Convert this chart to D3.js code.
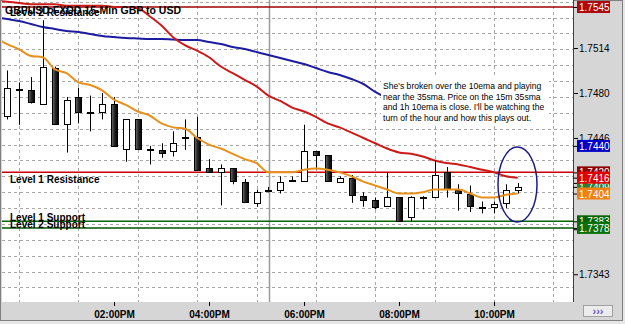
<!DOCTYPE html>
<html>
<head>
<meta charset="utf-8">
<script src="https://cdn.jsdelivr.net/npm/d3@7"></script>
<style>
body { margin: 0; background: #e6e6e6; }
svg { display: block; font-family: "Liberation Sans", Arial, sans-serif; }
</style>
</head>
<body>
<svg id="chart" width="625" height="324"></svg>
<script>
// 15-min bars, GBP/USD
var times = ["11:45","12:00","12:15","12:30","12:45","13:00","13:15","13:30","13:45","14:00","14:15",
  "14:30","14:45","15:00","15:15","15:30","15:45","16:00","16:15","16:30","16:45","17:00","17:15",
  "17:30","17:45","18:00","18:15","18:30","18:45","19:00","19:15","19:30","19:45","20:00","20:15",
  "20:30","20:45","21:00","21:15","21:30","21:45","22:00","22:15","22:30"];
var opens = [1.7463,1.7483,1.7482,1.7472,1.7499,1.7457,1.7477,1.7466,1.7466,1.7472,1.7437,1.7460,1.7438,1.7437,1.7436,
  1.7446,1.7447,1.7423,1.7420,1.7423,1.7413,1.7397,1.7406,1.7407,1.7413,1.7413,1.7436,1.7433,1.7413,1.7416,1.7402,
  1.7399,1.7394,1.7401,1.7386,1.7401,1.7401,1.7420,1.7407,1.7404,1.7394,1.7394,1.7397,1.7407];
var highs = [1.7497,1.7488,1.7492,1.7535,1.7500,1.7477,1.7484,1.7478,1.7480,1.7477,1.7460,1.7460,1.7440,1.7442,1.7451,
  1.7460,1.7462,1.7430,1.7426,1.7423,1.7415,1.7407,1.7409,1.7417,1.7417,1.7456,1.7436,1.7433,1.7417,1.7418,1.7405,
  1.7401,1.7420,1.7401,1.7402,1.7402,1.7429,1.7424,1.7411,1.7410,1.7398,1.7398,1.7411,1.7412];
var lows = [1.7460,1.7456,1.7472,1.7472,1.7457,1.7435,1.7457,1.7451,1.7460,1.7440,1.7428,1.7437,1.7426,1.7431,1.7432,
  1.7437,1.7422,1.7420,1.7395,1.7411,1.7397,1.7394,1.7405,1.7404,1.7413,1.7413,1.7422,1.7413,1.7413,1.7397,1.7394,
  1.7392,1.7394,1.7383,1.7383,1.7392,1.7401,1.7401,1.7391,1.7390,1.7389,1.7389,1.7393,1.7404];
var closes = [1.7484,1.7482,1.7473,1.7500,1.7457,1.7475,1.7466,1.7465,1.7472,1.7440,1.7460,1.7437,1.7437,1.7435,1.7442,
  1.7447,1.7422,1.7420,1.7423,1.7413,1.7398,1.7405,1.7407,1.7413,1.7414,1.7436,1.7433,1.7413,1.7416,1.7403,1.7399,
  1.7394,1.7401,1.7383,1.7401,1.7400,1.7418,1.7407,1.7405,1.7395,1.7394,1.7396,1.7407,1.7409];

// moving averages, read at 11:30 and then at every bar
var maTimes = ["11:30"].concat(times);
var ema10 = [1.7522,1.7517,1.7513,1.7508,1.7507,1.7498,1.7495,1.7488,1.7486,1.7482,1.7475,1.7471,1.7466,1.7463,1.7457,
  1.7454,1.7453,1.7446,1.7441,1.7438,1.7434,1.7430,1.7427,1.7420,1.7420,1.7420,1.7422,1.7423,1.7422,1.7420,1.7417,
  1.7413,1.7410,1.7407,1.7404,1.7404,1.7405,1.7407,1.7407,1.7407,1.7404,1.7401,1.7401,1.7403,1.7404];
var sma35 = [1.7550,1.7549,1.7548,1.7547,1.7547,1.7547,1.7546,1.7546,1.7546,1.7546,1.7545,1.7545,1.7544,1.7538,1.7531,
  1.7522,1.7516,1.7512,1.7507,1.7500,1.7495,1.7490,1.7485,1.7478,1.7474,1.7469,1.7466,1.7462,1.7457,1.7454,1.7450,
  1.7446,1.7442,1.7438,1.7435,1.7434,1.7432,1.7429,1.7427,1.7426,1.7424,1.7422,1.7420,1.7417,1.7416];
var sma100 = [1.75374,1.75359,1.75344,1.75322,1.75299,1.75284,1.75269,1.75261,1.75246,1.75231,1.75223,1.75216,1.75212,
  1.75208,1.75208,1.75204,1.75201,1.75201,1.75185,1.75170,1.75148,1.75133,1.75110,1.75087,1.75065,1.75042,1.75019,
  1.74989,1.74959,1.74936,1.74906,1.74868,1.74808,1.74762];

// horizontal levels
var levelNames = ["Level 2 Resistance", "Level 1 Resistance", "Level 1 Support", "Level 2 Support"];
var levelValues = [1.7545, 1.7420, 1.7383, 1.7378];

// price markers on the right scale (drawn in this order)
var markerValues = [1.7545, 1.7440, 1.7420, 1.7409, 1.7416, 1.7404, 1.7383, 1.7378];

var priceTicks = [1.7514, 1.7480, 1.7446, 1.7412, 1.7377, 1.7343];
var priceTickLabels = ["1.7514", "1.7480", "1.7446", "1.7412", "1.7377", "1.7343"];
var timeTicks = ["14:00", "16:00", "18:00", "20:00", "22:00"];
var gridTimes = ["12:00","13:15","14:30","15:45","17:00","18:15","19:30","20:45","22:00","23:15"];
var gridPrices = [1.7333,1.7345,1.7357,1.7369,1.7381,1.7393,1.7405,1.7417,1.7429,1.7441,1.7453,1.7465,
  1.7477,1.7489,1.7501,1.7513,1.7525,1.7537,1.7549];

var title = "GBPUSD FXDD 15-Min GBP to USD";
var note = ["She's broken over the 10ema and playing",
  "near the 35sma.  Price on the 15m 35sma",
  "and 1h 10ema is close.  I'll be watching the",
  "turn of the hour and how this plays out."];

var svg = d3.select("#chart");
var parseT = d3.timeParse("%H:%M:%S");
var pt = function(s) { return parseT(s.length == 5 ? s + ":00" : s); };

var plotL = 2, plotR = 573, plotT = 0, plotB = 302;
var x = d3.scaleTime().domain([pt("11:38:30"), pt("23:39:45")]).range([plotL, plotR]);
var y = d3.scaleLinear().domain([1.7322, 1.75503]).range([plotB, plotT]);

var markerColors = ["#b00808", "#0000c8", "#8c0000", "#2e7d32", "#e00000", "#f08010", "#006400", "#0a700a"];
var levelColors = ["#a00000", "#cc0000", "#006400", "#005400"];

// frame
svg.append("rect").attr("x", 0.5).attr("y", 0.5).attr("width", 622).attr("height", 320)
  .attr("fill", "#d6d6d6").attr("stroke", "#808080");
svg.append("rect").attr("x", plotL).attr("y", plotT).attr("width", plotR - plotL).attr("height", plotB - plotT)
  .attr("fill", "#ffffff");
svg.append("line").attr("x1", plotR + 0.5).attr("x2", plotR + 0.5).attr("y1", 0).attr("y2", plotB)
  .attr("stroke", "#404040");

var defs = svg.append("defs");
defs.append("clipPath").attr("id", "plot").append("rect")
  .attr("x", plotL).attr("y", plotT).attr("width", plotR - plotL).attr("height", plotB - plotT);
var grad = defs.append("linearGradient").attr("id", "dark").attr("x1", "0%").attr("x2", "100%");
grad.append("stop").attr("offset", "0%").attr("stop-color", "#707070");
grad.append("stop").attr("offset", "45%").attr("stop-color", "#2a2a2a");
grad.append("stop").attr("offset", "100%").attr("stop-color", "#000000");

var g = svg.append("g").attr("clip-path", "url(#plot)");

// grid
g.selectAll(".vg").data(gridTimes).enter().append("line")
  .attr("x1", function(d) { return Math.round(x(pt(d))) + 0.5; })
  .attr("x2", function(d) { return Math.round(x(pt(d))) + 0.5; })
  .attr("y1", plotT).attr("y2", plotB)
  .attr("stroke", "#a8a8a8").attr("stroke-dasharray", "3,3");
g.selectAll(".hg").data(gridPrices).enter().append("line")
  .attr("x1", plotL).attr("x2", plotR)
  .attr("y1", function(d) { return Math.round(y(d)) + 0.5; })
  .attr("y2", function(d) { return Math.round(y(d)) + 0.5; })
  .attr("stroke", "#a8a8a8").attr("stroke-dasharray", "3,3");

// session separator
g.append("line").attr("x1", 269.5).attr("x2", 269.5).attr("y1", plotT).attr("y2", plotB)
  .attr("stroke", "#9a9a9a").attr("stroke-width", 1.5);

// level lines
g.selectAll(".lvl").data(levelValues).enter().append("line")
  .attr("x1", plotL).attr("x2", plotR)
  .attr("y1", function(d) { return y(d); }).attr("y2", function(d) { return y(d); })
  .attr("stroke", function(d, i) { return levelColors[i]; }).attr("stroke-width", 1.5);

// moving averages
function maLine(vals, color) {
  var line = d3.line()
    .x(function(d, i) { return x(pt(maTimes[i])); })
    .y(function(d) { return y(d); })
    .curve(d3.curveMonotoneX);
  g.append("path").datum(vals).attr("d", line)
    .attr("fill", "none").attr("stroke", color).attr("stroke-width", 2);
}
maLine(sma100, "#1c1ca0");
maLine(sma35, "#cc1a1a");

// candles
var bars = times.map(function(t, i) {
  return { t: pt(t), o: opens[i], h: highs[i], l: lows[i], c: closes[i] };
});
var cg = g.append("g");
bars.forEach(function(d) {
  var cx = Math.round(x(d.t));
  cg.append("line").attr("x1", cx + 0.5).attr("x2", cx + 0.5)
    .attr("y1", y(d.h)).attr("y2", y(d.l)).attr("stroke", "#000").attr("stroke-width", 1);
  var yt = y(Math.max(d.o, d.c)), yb = y(Math.min(d.o, d.c));
  cg.append("rect").attr("x", cx - 2.5).attr("y", Math.round(yt) + 0.5)
    .attr("width", 6).attr("height", Math.max(1, Math.round(yb - yt)))
    .attr("fill", d.c >= d.o ? "#ffffff" : "url(#dark)")
    .attr("stroke", "#000").attr("stroke-width", 1);
});

maLine(ema10, "#e8901c");

// note
var nb = svg.append("g");
nb.append("rect").attr("x", 381).attr("y", 78).attr("width", 168).attr("height", 47).attr("fill", "#ffffff");
nb.selectAll("text").data(note).enter().append("text")
  .attr("x", 383).attr("y", function(d, i) { return 89 + i * 10.7; })
  .attr("font-size", "8.6px").attr("fill", "#000").text(function(d) { return d; });

// highlighted area
svg.append("ellipse").attr("cx", 517.5).attr("cy", 184.5).attr("rx", 19.5).attr("ry", 37.5)
  .attr("fill", "none").attr("stroke", "#1a1a8c").attr("stroke-width", 1.5);

// level names
svg.selectAll(".lname").data(levelNames).enter().append("text")
  .attr("x", 10)
  .attr("y", function(d, i) { return [16, 183, 221, 228][i]; })
  .attr("font-size", "10px").attr("font-weight", "bold").attr("fill", "#000")
  .text(function(d) { return d; });
svg.append("text").attr("x", 5).attr("y", 14).attr("font-size", "10.5px").attr("font-weight", "bold")
  .attr("fill", "#000").text(title);

// right price axis
var ya = d3.axisRight(y).tickValues(priceTicks).tickSize(4)
  .tickFormat(function(d, i) { return priceTickLabels[i]; });
var yag = svg.append("g").attr("transform", "translate(" + (plotR + 1) + ",0)").call(ya);
yag.select(".domain").remove();
yag.selectAll("text").attr("x", 5).attr("font-size", "10px").attr("font-family", "Liberation Sans, Arial")
  .attr("fill", "#000");
yag.selectAll("line").attr("stroke", "#000");

// price markers
var mk = svg.append("g").selectAll("g").data(markerValues).enter().append("g")
  .attr("transform", function(d) { return "translate(" + (plotR + 4) + "," + y(d) + ")"; });
mk.append("rect").attr("x", 0).attr("y", -6).attr("width", 33).attr("height", 12)
  .attr("fill", function(d, i) { return markerColors[i]; });
mk.append("text").attr("x", 2).attr("y", 4).attr("font-size", "10px").attr("fill", "#fff")
  .text(function(d) { return d3.format(".4f")(d); });
mk.append("line").attr("x1", -4).attr("x2", 0).attr("y1", 0.5).attr("y2", 0.5).attr("stroke", "#000");

// bottom time axis
var xa = d3.axisBottom(x).tickValues(timeTicks.map(pt)).tickSize(4)
  .tickFormat(d3.timeFormat("%I:%M%p"));
var xag = svg.append("g").attr("transform", "translate(0," + plotB + ")").call(xa);
xag.select(".domain").remove();
xag.selectAll("text").attr("y", 9).attr("font-size", "10px").attr("font-weight", "bold")
  .attr("font-family", "Liberation Sans, Arial").attr("fill", "#000");
xag.selectAll("line").attr("stroke", "#000");

// scroll button
svg.append("rect").attr("x", 583.5).attr("y", 305.5).attr("width", 29).attr("height", 11)
  .attr("fill", "#ececec").attr("stroke", "#a0a0a0");
svg.append("text").attr("x", 598).attr("y", 315).attr("text-anchor", "middle")
  .attr("font-size", "11px").attr("font-weight", "bold").attr("fill", "#6a4fd0").text("\u203A\u203A\u203A");
</script>
</body>
</html>
